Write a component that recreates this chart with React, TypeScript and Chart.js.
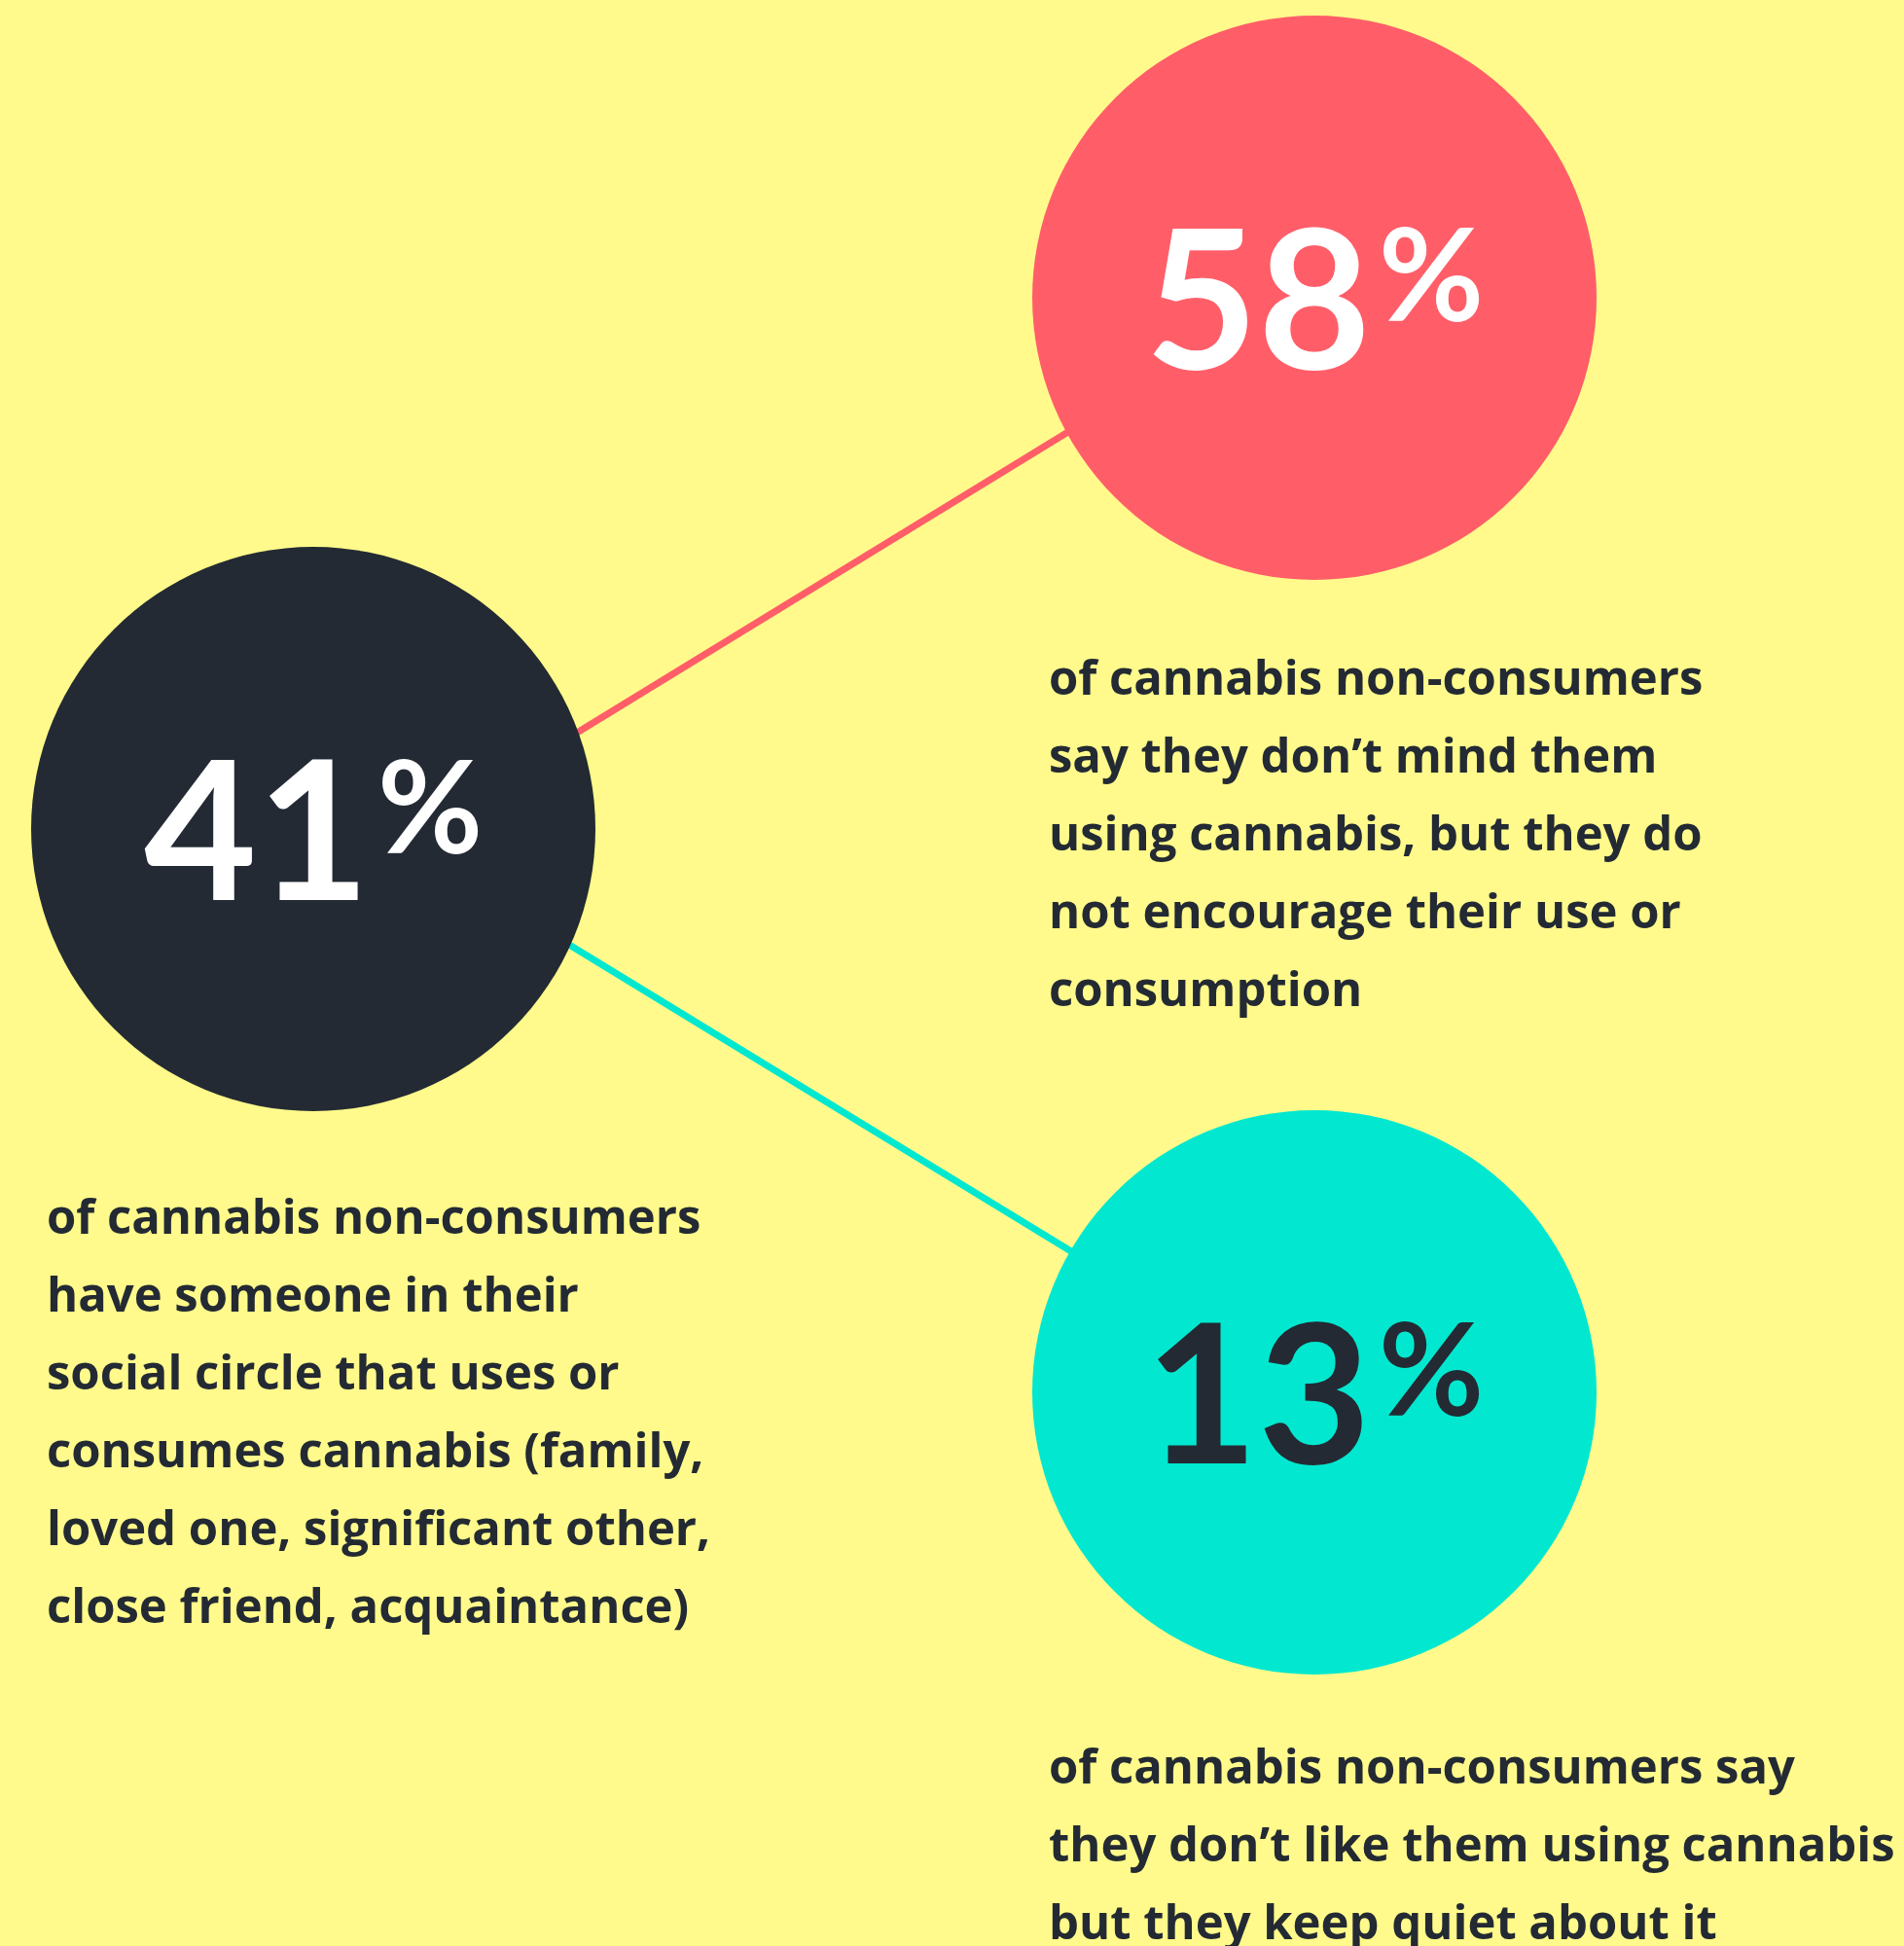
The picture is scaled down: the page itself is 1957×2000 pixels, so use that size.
import React, { useEffect, useRef } from "react";
import { Chart, registerables } from "chart.js";

Chart.register(...registerables);

// ---- data ----
const CATEGORIES = ["Someone in social circle uses cannabis", "Don't mind, don't encourage", "Don't like it, keep quiet"];
const VALUES = [41, 58, 13];
const UNIT = "%";
const DESCRIPTIONS_41 = [
  "of cannabis non-consumers",
  "have someone in their",
  "social circle that uses or",
  "consumes cannabis (family,",
  "loved one, significant other,",
  "close friend, acquaintance)",
];
const DESCRIPTIONS_58 = [
  "of cannabis non-consumers",
  "say they don\u2019t mind them",
  "using cannabis, but they do",
  "not encourage their use or",
  "consumption",
];
const DESCRIPTIONS_13 = [
  "of cannabis non-consumers say",
  "they don\u2019t like them using cannabis",
  "but they keep quiet about it",
];
const DESCRIPTIONS = [DESCRIPTIONS_41, DESCRIPTIONS_58, DESCRIPTIONS_13];

// ---- layout & style (not data) ----
const W = 1957;
const H = 2000;
const BG = "#FFFA8B";
const DARK = "#232A33";
const RED = "#FF5E69";
const TEAL = "#02E8D0";
const CIRCLE_COLORS = [DARK, RED, TEAL];
const NUM_COLORS = ["#FFFFFF", "#FFFFFF", DARK];
const CENTERS = [
  { x: 322, y: 852 },
  { x: 1351, y: 306 },
  { x: 1351, y: 1431 },
];
const RADIUS = 290;
const TEXT_POS = [
  { x: 48, y: 1268 },
  { x: 1078, y: 714 },
  { x: 1078, y: 1833 },
];
const LINE_STEP = 80;
const BODY_FONT = "bold 49px 'Open Sans'";
const NUM_FONT_FAMILY = "Lato";
const NUM_SIZE = 200;
const PCT_SIZE = 132;
const PCT_GAP = 8;
// connectors: endpoints hidden under circles
const CONNECTORS = [
  { color: RED, from: { x: 500, y: 810 }, to: { x: 1150, y: 412 } },
  { color: TEAL, from: { x: 500, y: 919 }, to: { x: 1150, y: 1316 } },
];

const textPlugin = {
  id: "infoText",
  beforeDraw(chart: any) {
    const { ctx } = chart;
    ctx.save();
    ctx.fillStyle = BG;
    ctx.fillRect(0, 0, chart.width, chart.height);
    ctx.restore();
  },
  afterDatasetsDraw(chart: any) {
    const { ctx } = chart;
    const xs = chart.scales.x;
    const ys = chart.scales.y;
    VALUES.forEach((v, i) => {
      const cx = xs.getPixelForValue(CENTERS[i].x);
      const cy = ys.getPixelForValue(CENTERS[i].y);
      const num = String(v);
      ctx.save();
      ctx.fillStyle = NUM_COLORS[i];
      ctx.textBaseline = "alphabetic";
      ctx.textAlign = "left";
      ctx.font = `bold ${NUM_SIZE}px ${NUM_FONT_FAMILY}`;
      const m = ctx.measureText(num);
      const cap = m.actualBoundingBoxAscent;
      ctx.font = `bold ${PCT_SIZE}px ${NUM_FONT_FAMILY}`;
      const pm = ctx.measureText(UNIT);
      const pAsc = pm.actualBoundingBoxAscent;
      const total = m.width + PCT_GAP + pm.width;
      const left = cx - total / 2;
      const base = cy + cap / 2;
      ctx.font = `bold ${NUM_SIZE}px ${NUM_FONT_FAMILY}`;
      ctx.fillText(num, left, base);
      ctx.font = `bold ${PCT_SIZE}px ${NUM_FONT_FAMILY}`;
      ctx.fillText(UNIT, left + m.width + PCT_GAP, base - cap + pAsc);
      ctx.restore();

      ctx.save();
      ctx.fillStyle = DARK;
      ctx.font = BODY_FONT;
      ctx.textAlign = "left";
      ctx.textBaseline = "alphabetic";
      DESCRIPTIONS[i].forEach((line, j) => {
        const tx = xs.getPixelForValue(TEXT_POS[i].x);
        const ty = ys.getPixelForValue(TEXT_POS[i].y + j * LINE_STEP);
        ctx.fillText(line, tx, ty);
      });
      ctx.restore();
    });
  },
};

export default function App() {
  const ref = useRef<HTMLCanvasElement | null>(null);
  useEffect(() => {
    document.body.style.margin = "0";
    document.body.style.background = BG;
    if (!ref.current) return;
    const chart = new Chart(ref.current, {
      type: "scatter",
      data: {
        datasets: [
          ...CONNECTORS.map((c) => ({
            type: "line" as const,
            label: "connector",
            data: [c.from, c.to],
            borderColor: c.color,
            borderWidth: 7,
            pointRadius: 0,
            showLine: true,
            fill: false,
            order: 2,
          })),
          {
            type: "scatter" as const,
            label: "stats",
            data: VALUES.map((v, i) => ({ x: CENTERS[i].x, y: CENTERS[i].y, v, c: CATEGORIES[i] })),
            pointRadius: RADIUS,
            pointHoverRadius: RADIUS,
            pointBackgroundColor: CIRCLE_COLORS,
            pointBorderWidth: 0,
            pointBorderColor: CIRCLE_COLORS,
            order: 1,
            clip: false,
          },
        ],
      } as any,
      options: {
        animation: false,
        responsive: false,
        devicePixelRatio: 1,
        events: [],
        layout: { padding: 0, autoPadding: false },
        plugins: { legend: { display: false }, tooltip: { enabled: false } },
        scales: {
          x: { type: "linear", min: 0, max: W, display: false },
          y: { type: "linear", min: 0, max: H, reverse: true, display: false },
        },
      } as any,
      plugins: [textPlugin],
    });
    return () => chart.destroy();
  }, []);
  return (
    <div style={{ width: W, height: H, position: "absolute", left: 0, top: 0, background: BG }}>
      <canvas ref={ref} width={W} height={H} style={{ display: "block", width: W, height: H }} />
    </div>
  );
}
